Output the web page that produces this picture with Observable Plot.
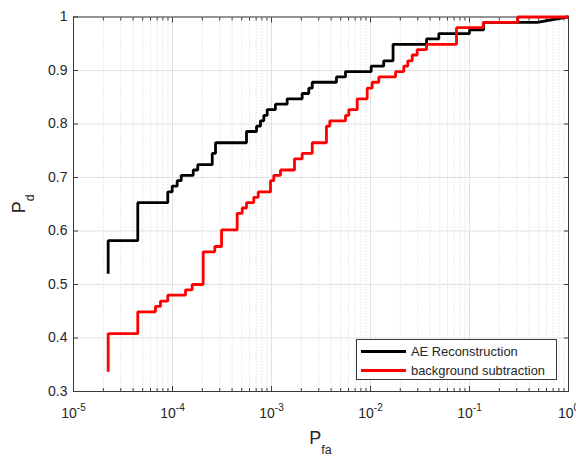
<!DOCTYPE html>
<html><head><meta charset="utf-8">
<script src="https://cdn.jsdelivr.net/npm/d3@7"></script>
<script src="https://cdn.jsdelivr.net/npm/@observablehq/plot@0.6"></script>
<style>
body{margin:0;background:#fff;}
#wrap{position:relative;width:576px;height:456px;font-family:"Liberation Sans",Arial,sans-serif;color:#262626;}
#legend{position:absolute;left:356px;top:339px;width:201px;height:41px;border:1px solid #3a3a3a;background:#fff;box-sizing:border-box;font-size:12.9px;}
.lg-row{position:absolute;left:0;height:14px;display:flex;align-items:center;}
.lg-line{display:inline-block;width:45px;height:3px;margin-left:4px;margin-right:5px;}
</style></head><body><div id="wrap"></div>
<script>
// ROC vertices: AE Reconstruction
const aePfa = [2.24e-5,2.24e-5,4.46e-5,4.46e-5,8.96e-5,8.96e-5,9.93e-5,9.93e-5,1.115e-4,1.115e-4,1.225e-4,1.225e-4,1.62e-4,1.62e-4,1.80e-4,1.80e-4,2.52e-4,2.52e-4,2.72e-4,2.72e-4,5.59e-4,5.59e-4,7.06e-4,7.06e-4,7.74e-4,7.74e-4,8.36e-4,8.36e-4,9.05e-4,9.05e-4,1.096e-3,1.096e-3,1.44e-3,1.44e-3,2.04e-3,2.04e-3,2.38e-3,2.38e-3,2.58e-3,2.58e-3,4.53e-3,4.53e-3,5.59e-3,5.59e-3,1.016e-2,1.016e-2,1.36e-2,1.36e-2,1.69e-2,1.69e-2,3.68e-2,3.68e-2,4.90e-2,4.90e-2,0.1,0.1,0.139,0.139,0.483,0.97,1];
const aePd  = [0.520,0.582,0.582,0.653,0.653,0.673,0.673,0.684,0.684,0.694,0.694,0.704,0.704,0.714,0.714,0.724,0.724,0.745,0.745,0.765,0.765,0.786,0.786,0.796,0.796,0.806,0.806,0.816,0.816,0.827,0.827,0.837,0.837,0.847,0.847,0.857,0.857,0.867,0.867,0.878,0.878,0.888,0.888,0.898,0.898,0.908,0.908,0.918,0.918,0.949,0.949,0.959,0.959,0.969,0.969,0.976,0.976,0.990,0.990,1.0,1.0];
// ROC vertices: background subtraction
const bgPfa = [2.24e-5,2.24e-5,4.46e-5,4.46e-5,6.73e-5,6.73e-5,7.56e-5,7.56e-5,8.96e-5,8.96e-5,1.353e-4,1.353e-4,1.58e-4,1.58e-4,2.04e-4,2.04e-4,2.675e-4,2.675e-4,3.13e-4,3.13e-4,4.50e-4,4.50e-4,5.06e-4,5.06e-4,5.59e-4,5.59e-4,6.62e-4,6.62e-4,7.34e-4,7.34e-4,9.77e-4,9.77e-4,1.055e-3,1.055e-3,1.233e-3,1.233e-3,1.707e-3,1.707e-3,2.04e-3,2.04e-3,2.58e-3,2.58e-3,3.59e-3,3.59e-3,3.88e-3,3.88e-3,5.59e-3,5.59e-3,6.04e-3,6.04e-3,7.34e-3,7.34e-3,9.26e-3,9.26e-3,1.04e-2,1.04e-2,1.213e-2,1.213e-2,1.79e-2,1.79e-2,2.17e-2,2.17e-2,2.38e-2,2.38e-2,2.64e-2,2.64e-2,2.96e-2,2.96e-2,3.68e-2,3.68e-2,7.39e-2,7.39e-2,0.1375,0.1375,0.3075,0.3075,1];
const bgPd  = [0.337,0.408,0.408,0.449,0.449,0.459,0.459,0.469,0.469,0.480,0.480,0.490,0.490,0.500,0.500,0.561,0.561,0.571,0.571,0.602,0.602,0.633,0.633,0.643,0.643,0.653,0.653,0.663,0.663,0.673,0.673,0.694,0.694,0.704,0.704,0.714,0.714,0.735,0.735,0.745,0.745,0.765,0.765,0.796,0.796,0.806,0.806,0.816,0.816,0.827,0.827,0.847,0.847,0.867,0.867,0.878,0.878,0.888,0.888,0.898,0.898,0.908,0.908,0.918,0.918,0.929,0.929,0.939,0.939,0.949,0.949,0.980,0.980,0.990,0.990,1.0,1.0];

const seriesNames = ["AE Reconstruction", "background subtraction"];
const seriesColors = ["#000000", "#ff0000"];
const xTicks = [1e-5, 1e-4, 1e-3, 1e-2, 1e-1, 1];
const xTickExponents = ["-5", "-4", "-3", "-2", "-1", "0"];
const yTicks = [0.3, 0.4, 0.5, 0.6, 0.7, 0.8, 0.9, 1];
const yTickLabels = ["0.3", "0.4", "0.5", "0.6", "0.7", "0.8", "0.9", "1"];
const minorMultipliers = [2, 3, 4, 5, 6, 7, 8, 9];
const xLabel = ["P", "fa"];
const yLabel = ["P", "d"];

const xMinor = xTicks.slice(0, -1).flatMap(t => minorMultipliers.map(m => t * m));
const ae = aePfa.map((x, i) => ({pfa: x, pd: aePd[i]}));
const bg = bgPfa.map((x, i) => ({pfa: x, pd: bgPd[i]}));

const axisColor = "#3a3a3a";
const plot = Plot.plot({
  width: 576, height: 456,
  marginLeft: 73, marginRight: 8, marginTop: 16.5, marginBottom: 65,
  style: {fontFamily: '"Liberation Sans", Arial, sans-serif', color: "#262626", background: "#fff"},
  x: {type: "log", domain: [1e-5, 1]},
  y: {domain: [0.3, 1]},
  marks: [
    Plot.ruleX(xMinor, {stroke: "#c8c8c8", strokeDasharray: "1,2", strokeWidth: 0.8}),
    Plot.ruleX(xTicks, {stroke: "#e2e2e2", strokeWidth: 1}),
    Plot.ruleY(yTicks, {stroke: "#e2e2e2", strokeWidth: 1}),
    Plot.axisX({anchor: "bottom", ticks: xMinor, tickSize: -3, fill: "none", stroke: axisColor, label: null}),
    Plot.axisX({anchor: "top", ticks: xMinor, tickSize: -3, fill: "none", stroke: axisColor, label: null}),
    Plot.axisX({anchor: "top", ticks: xTicks, tickSize: -5, fill: "none", stroke: axisColor, label: null}),
    Plot.axisX({anchor: "bottom", ticks: xTicks, tickSize: -5, tickPadding: 22, fontSize: 14, stroke: axisColor, fill: "#262626",
      tickFormat: d => "10^" + xTickExponents[xTicks.indexOf(d)], label: null}),
    Plot.axisY({anchor: "right", ticks: yTicks, tickSize: -5, fill: "none", stroke: axisColor, label: null}),
    Plot.axisY({anchor: "left", ticks: yTicks, tickSize: -5, tickPadding: 11, fontSize: 14, stroke: axisColor, fill: "#262626",
      tickFormat: d => yTickLabels[yTicks.indexOf(d)], label: null}),
    Plot.frame({stroke: axisColor, strokeWidth: 1}),
    Plot.line(ae, {x: "pfa", y: "pd", stroke: seriesColors[0], strokeWidth: 2.8, strokeLinejoin: "miter", strokeLinecap: "butt"}),
    Plot.line(bg, {x: "pfa", y: "pd", stroke: seriesColors[1], strokeWidth: 2.8, strokeLinejoin: "miter", strokeLinecap: "butt"})
  ]
});

const wrap = document.getElementById("wrap");
wrap.appendChild(plot);
const svg = d3.select(plot);

// superscript tick labels
svg.selectAll('g[aria-label="x-axis tick label"] text').each(function() {
  const t = d3.select(this);
  const s = t.text();
  const exp = s.split("^")[1];
  t.text(null);
  t.append("tspan").text("10");
  t.append("tspan").attr("font-size", 10).attr("dy", -7).text(exp);
});

const xs = plot.scale("x"), ys = plot.scale("y");
const cx = (xs.range[0] + xs.range[1]) / 2;
const cy = (ys.range[0] + ys.range[1]) / 2;
const xl = svg.append("text").attr("x", cx).attr("y", 444).attr("text-anchor", "middle")
  .attr("fill", "#262626").attr("font-size", 18);
xl.append("tspan").text(xLabel[0]);
xl.append("tspan").attr("font-size", 12.5).attr("dy", 10).text(xLabel[1]);

const yl = svg.append("text").attr("transform", `translate(25,${cy}) rotate(-90)`).attr("text-anchor", "middle")
  .attr("fill", "#262626").attr("font-size", 18);
yl.append("tspan").text(yLabel[0]);
yl.append("tspan").attr("font-size", 12.5).attr("dy", 9).text(yLabel[1]);

// legend
const legend = document.createElement("div");
legend.id = "legend";
seriesNames.forEach((name, i) => {
  const row = document.createElement("div");
  row.className = "lg-row";
  row.style.top = (i === 0 ? 4 : 23) + "px";
  const ln = document.createElement("span");
  ln.className = "lg-line";
  ln.style.background = seriesColors[i];
  const tx = document.createElement("span");
  tx.textContent = name;
  row.appendChild(ln); row.appendChild(tx);
  legend.appendChild(row);
});
wrap.appendChild(legend);
</script>
</body></html>
